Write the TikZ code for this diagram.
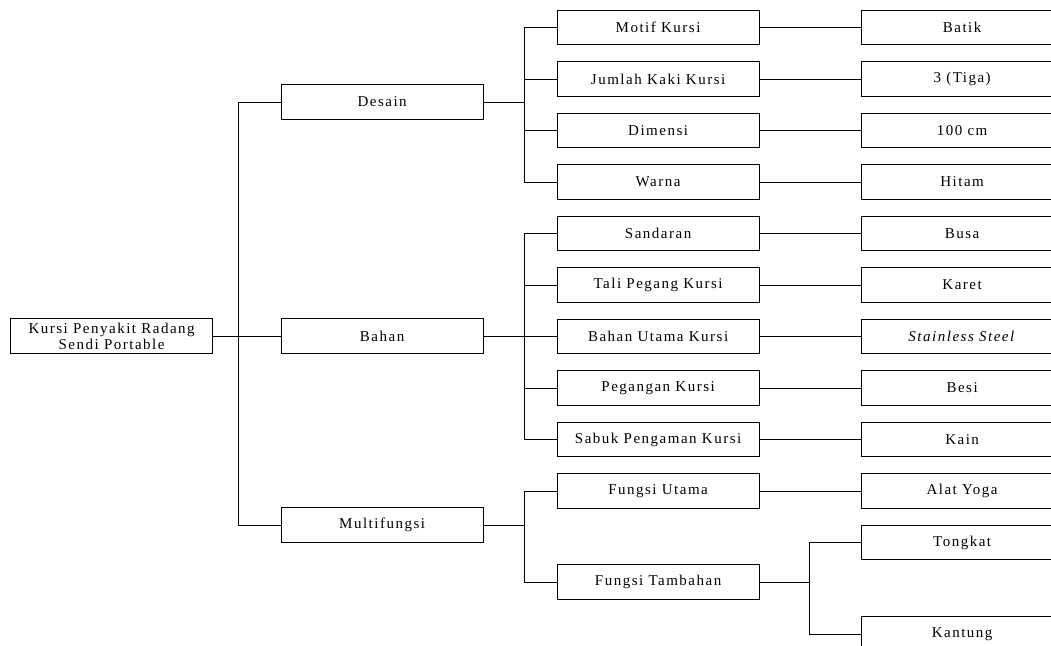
\documentclass[tikz,border=0pt]{standalone}
\usepackage{fontspec}
\setmainfont{Liberation Serif}[LetterSpace=10]
\usepackage{tikz}
\usetikzlibrary{positioning}
\tikzstyle{item}=[rectangle, draw=black, line width=0.9pt, minimum width=202pt, minimum height=34.5pt,
        inner sep=0pt, outer sep=0pt, text centered, align=center, font=\fontsize{15}{16}\selectfont]
\tikzstyle{link}=[draw=black, line width=0.9pt]

\begin{document}
\begin{tikzpicture}[x=1pt, y=-1pt, node distance=17pt]
        \useasboundingbox (0,0) rectangle (1051,645);
        \clip (0,0) rectangle (1051,645);
        \node (root) [item] at (111.6,336) {Kursi Penyakit Radang\\Sendi Portable};
        \node (bahan) [item, right=68.5pt of root] {Bahan};
        \node (desain) [item, above=199.5pt of bahan] {Desain};
        \node (multi) [item, below=154.5pt of bahan] {Multifungsi};

        \node (motif) [item, right=74pt of desain, yshift=74.5pt] {Motif Kursi};
        \node (kaki) [item, below=of motif] {Jumlah Kaki Kursi};
        \node (dimensi) [item, below=of kaki] {Dimensi};
        \node (warna) [item, below=of dimensi] {Warna};
        \node (sandaran) [item, below=of warna] {Sandaran};
        \node (tali) [item, below=of sandaran] {Tali Pegang Kursi};
        \node (utama) [item, below=of tali] {Bahan Utama Kursi};
        \node (pegangan) [item, below=of utama] {Pegangan Kursi};
        \node (sabuk) [item, below=of pegangan] {Sabuk Pengaman Kursi};
        \node (fungsi) [item, below=of sabuk] {Fungsi Utama};
        \node (tambah) [item, below=56.5pt of fungsi] {Fungsi Tambahan};

        \node (batik) [item, right=102pt of motif] {Batik};
        \node (tiga) [item, right=102pt of kaki] {3 (Tiga)};
        \node (ukuran) [item, right=102pt of dimensi] {100 cm};
        \node (hitam) [item, right=102pt of warna] {Hitam};
        \node (busa) [item, right=102pt of sandaran] {Busa};
        \node (karet) [item, right=102pt of tali] {Karet};
        \node (steel) [item, right=102pt of utama] {\textit{Stainless Steel}};
        \node (besi) [item, right=102pt of pegangan] {Besi};
        \node (kain) [item, right=102pt of sabuk] {Kain};
        \node (yoga) [item, right=102pt of fungsi] {Alat Yoga};
        \node (tongkat) [item, below=of yoga] {Tongkat};
        \node (kantung) [item, below=57pt of tongkat] {Kantung};

        \draw [link] (root) -- (bahan);
        \draw [link] (desain.west) -- ++(-43,0) |- (multi.west);
        \foreach \c in {motif,kaki,dimensi,warna}
          \draw [link] (desain.east) -- ++(41,0) |- (\c.west);
        \foreach \c in {sandaran,tali,utama,pegangan,sabuk}
          \draw [link] (bahan.east) -- ++(41,0) |- (\c.west);
        \foreach \c in {fungsi,tambah}
          \draw [link] (multi.east) -- ++(41,0) |- (\c.west);
        \foreach \c in {tongkat,kantung}
          \draw [link] (tambah.east) -- ++(50,0) |- (\c.west);
        \foreach \a/\b in {motif/batik,kaki/tiga,dimensi/ukuran,warna/hitam,sandaran/busa,
            tali/karet,utama/steel,pegangan/besi,sabuk/kain,fungsi/yoga}
          \draw [link] (\a) -- (\b);
\end{tikzpicture}
\end{document}
